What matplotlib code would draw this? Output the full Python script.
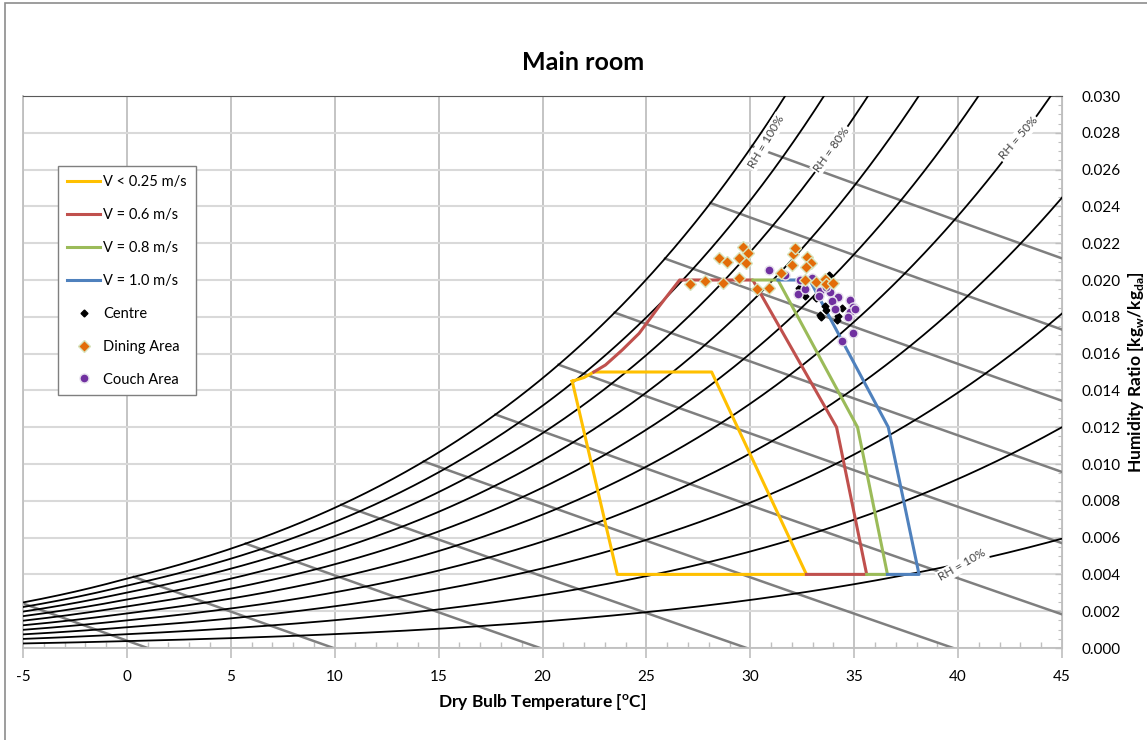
#!/usr/bin/env python
# -*- coding: utf-8 -*-

import numpy as np
import matplotlib
matplotlib.use('Agg')
import matplotlib.pyplot as plt
from matplotlib.patches import Rectangle

plt.rcParams['font.family'] = ['Lato', 'DejaVu Sans']
plt.rcParams['mathtext.fontset'] = 'custom'
plt.rcParams['mathtext.rm'] = 'Lato'
plt.rcParams['mathtext.bf'] = 'Lato:bold'
plt.rcParams['axes.unicode_minus'] = False

# chart grid: relative humidity curves [%] and enthalpy lines [kJ/kg]
rh_levels = [10, 20, 30, 40, 50, 60, 70, 80, 90, 100]
h_levels = [1, 10, 20, 30, 40, 50, 60, 70, 80, 90, 100]

# comfort zones (dry bulb [C], humidity ratio [kg/kg])
zone_025_t = [21.43, 23.6, 32.7, 28.14, 22.47, 22.0, 21.43]
zone_025_w = [0.0145, 0.0040, 0.0040, 0.0150, 0.0150, 0.0147, 0.0145]
zone_06_t = [22.47, 23.03, 23.84, 24.65, 25.13, 25.6, 26.1, 26.6, 30.12, 34.15, 35.6, 32.7]
zone_06_w = [0.0150, 0.01538, 0.0162, 0.0171, 0.01783, 0.01855, 0.01928, 0.0200, 0.0200, 0.0120, 0.0040, 0.0040]
zone_08_t = [30.12, 31.33, 35.16, 36.6, 35.6]
zone_08_w = [0.0200, 0.0200, 0.0120, 0.0040, 0.0040]
zone_10_t = [31.33, 32.86, 36.64, 38.12, 36.6]
zone_10_w = [0.0200, 0.0200, 0.0120, 0.0040, 0.0040]

# measurements
centre_t = [32.33, 32.62, 33.58, 33.63, 33.34, 33.42, 34.23, 34.19, 34.43, 33.78, 33.17]
centre_w = [0.01958, 0.01913, 0.01859, 0.01837, 0.0181, 0.01797, 0.01804, 0.01783, 0.01846, 0.02027, 0.0190]
dining_t = [27.09, 27.83, 28.70, 29.44, 28.51, 28.86, 29.44, 29.64, 29.88, 29.8, 30.33, 30.89,
            31.46, 32.05, 32.13, 32.02, 32.73, 32.94, 32.66, 32.61, 33.18, 33.58, 33.66, 33.99]
dining_w = [0.01978, 0.01995, 0.01982, 0.02013, 0.02118, 0.0210, 0.02121, 0.02181, 0.02145, 0.02094,
            0.0195, 0.01958, 0.02036, 0.0214, 0.02172, 0.02082, 0.02123, 0.02091, 0.02072, 0.0200,
            0.01991, 0.02004, 0.01978, 0.01986]
couch_t = [30.89, 31.65, 32.38, 32.99, 32.29, 32.62, 33.34, 33.83, 34.23, 33.91, 33.31, 34.07,
           34.82, 34.95, 34.79, 34.71, 34.92, 34.43, 35.05, 33.66]
couch_w = [0.02054, 0.02027, 0.0200, 0.02009, 0.01924, 0.0195, 0.0194, 0.01937, 0.01906, 0.01888,
           0.01913, 0.01841, 0.01891, 0.01855, 0.01828, 0.01797, 0.0171, 0.0167, 0.01842, 0.01964]

P = 101.325


def psat(t):
    t = np.asarray(t, dtype=float)
    return np.where(t >= 0, 0.61094 * np.exp(17.625 * t / (t + 243.04)),
                    0.61115 * np.exp(22.452 * t / (272.55 + t)))


def main():
    fig = plt.figure(figsize=(11.47, 7.4), dpi=100)
    fig.patches.append(Rectangle((5 / 1147., -0.05), 1.2, 0.05 + 737 / 740., transform=fig.transFigure,
                                 fill=False, edgecolor='#8c8c8c', lw=1.2))
    ax = fig.add_axes([23 / 1147., 92 / 740., 1039 / 1147., 552 / 740.])

    tt = np.linspace(-5, 45, 400)
    ps = psat(tt)
    # enthalpy lines
    ws = 0.622 * ps / (P - ps)
    hs = 1.006 * tt + ws * (2501 + 1.86 * tt)
    for h in h_levels:
        t0 = max(-5, np.interp(h, hs, tt))
        t1 = min(45, h / 1.006)
        t = np.linspace(t0, t1, 60)
        w = (h - 1.006 * t) / (2501 + 1.86 * t)
        ax.plot(t, w, color='#7f7f7f', lw=1.8, zorder=2)
    # relative humidity curves
    for rh in rh_levels:
        pv = rh / 100. * ps
        ax.plot(tt, 0.622 * pv / (P - pv), color='black', lw=1.3, zorder=3)

    lab = dict(fontsize=8.5, color='#404040', ha='center', va='center', zorder=4,
               bbox=dict(facecolor='white', edgecolor='none', pad=1.2))
    ax.text(30.75, 0.0275, 'RH = 100%', rotation=59, **lab)
    ax.text(33.9, 0.0271, 'RH = 80%', rotation=54, **lab)
    ax.text(42.9, 0.0277, 'RH = 50%', rotation=49, **lab)
    ax.text(40.2, 0.0045, 'RH = 10%', rotation=30, **lab)

    ax.plot(zone_025_t, zone_025_w, color='#ffc000', lw=2.2, zorder=5, label='V < 0.25 m/s')
    ax.plot(zone_06_t, zone_06_w, color='#c0504d', lw=2.2, zorder=5, label='V = 0.6 m/s')
    ax.plot(zone_08_t, zone_08_w, color='#9bbb59', lw=2.2, zorder=5, label='V = 0.8 m/s')
    ax.plot(zone_10_t, zone_10_w, color='#4f81bd', lw=2.2, zorder=5, label='V = 1.0 m/s')
    ax.plot(centre_t, centre_w, ls='none', marker='D', ms=3.5, color='black', zorder=6, label='Centre')
    ax.plot(dining_t, dining_w, ls='none', marker='D', ms=6, mfc='#e36c09', mec='#d7e4bd', mew=1,
            zorder=7, label='Dining Area')
    ax.plot(couch_t, couch_w, ls='none', marker='o', ms=6.5, mfc='#7030a0', mec='#e6e0ec', mew=1,
            zorder=6, label='Couch Area')

    # range
    ax.set_xlim(-5, 45)
    ax.set_ylim(0, 0.030)
    # tune
    ax.set_xticks(np.arange(-5, 46, 5))
    ax.set_xticks(np.arange(-5, 46, 1), minor=True)
    ax.set_yticks(np.arange(0, 0.0301, 0.002))
    ax.set_yticks(np.arange(0, 0.0301, 0.0005), minor=True)
    ax.yaxis.set_major_formatter(plt.FormatStrFormatter('%.3f'))
    ax.yaxis.tick_right()
    ax.yaxis.set_label_position('right')
    ax.grid(axis='x', which='major', color='#bfbfbf', lw=1.3, zorder=0)
    ax.grid(axis='y', which='major', color='#d9d9d9', lw=1.5, zorder=0)
    ax.set_axisbelow(True)
    for s in ['left', 'bottom']:
        ax.spines[s].set_color('#bfbfbf')
        ax.spines[s].set_linewidth(1.3)
    ax.spines['top'].set_color('#595959')
    ax.spines['right'].set_color('#bfbfbf')
    ax.tick_params(axis='x', which='major', length=7, width=1.2, color='#bfbfbf', direction='out',
                   labelsize=11, pad=9)
    ax.tick_params(axis='x', which='minor', length=4, width=1, color='#bfbfbf', direction='in')
    ax.tick_params(axis='y', which='major', length=5, width=1, color='#bfbfbf', direction='in',
                   labelsize=11, pad=14)
    ax.tick_params(axis='y', which='minor', length=3, width=0.8, color='#bfbfbf', direction='in')
    ax.set_xlabel(r'Dry Bulb Temperature [$^\mathbf{o}$C]', fontsize=12.5, fontweight='bold', labelpad=6)
    ax.set_ylabel(r'Humidity Ratio [kg$_\mathbf{w}$/kg$_\mathbf{da}$]', fontsize=12.5,
                  fontweight='bold', labelpad=4)
    fig.text(583 / 1147., 1 - 62 / 740., 'Main room', fontsize=18, fontweight='bold',
             ha='center', va='center')
    leg = ax.legend(loc='upper left', bbox_to_anchor=(0.0337, 0.873), borderaxespad=0,
                    fontsize=10.5, labelspacing=1.3, handlelength=2.3, handletextpad=0.2,
                    fancybox=False, framealpha=1, edgecolor='#7f7f7f', borderpad=0.6)
    leg.get_frame().set_linewidth(1.0)
    leg.set_zorder(10)
    plt.savefig('out.png', dpi=100)


if __name__ == '__main__':
    main()
